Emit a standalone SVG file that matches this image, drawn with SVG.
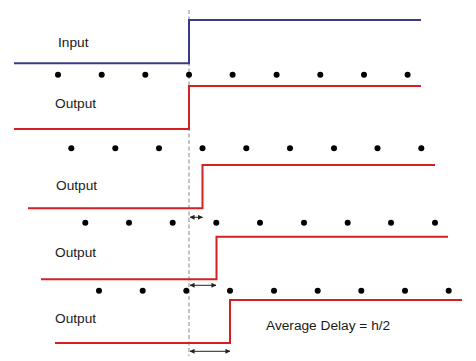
<svg xmlns="http://www.w3.org/2000/svg" width="476" height="361" viewBox="0 0 476 361">
<style>
.lbl{font-family:"Liberation Sans",Arial,sans-serif;font-size:13.7px;fill:#1a1a1a}
.sig{fill:none;stroke-width:2}
.in{stroke:#3a3a8a}
.out{stroke:#d42020}
.dot{fill:#000}
.dim{stroke:#222;stroke-width:1;fill:none}
</style>
<defs>
<marker id="ah" viewBox="0 0 6 6" refX="5.5" refY="3" markerWidth="5" markerHeight="5" orient="auto-start-reverse" markerUnits="userSpaceOnUse">
<path d="M0,0 L6,3 L0,6 z" fill="#222"/>
</marker>
</defs>
<rect width="476" height="361" fill="#fff"/>
<g id="connectors">
<line x1="189" y1="10" x2="189" y2="356" stroke="#9a9a9a" stroke-width="1.2" stroke-dasharray="4,2.5"/>
<line class="dim" x1="190" y1="217.3" x2="202.5" y2="217.3" marker-start="url(#ah)" marker-end="url(#ah)"/>
<line class="dim" x1="190" y1="285.3" x2="216" y2="285.3" marker-start="url(#ah)" marker-end="url(#ah)"/>
<line class="dim" x1="190" y1="351.3" x2="230" y2="351.3" marker-start="url(#ah)" marker-end="url(#ah)"/>
</g>
<g id="input">
<path class="sig in" d="M14,63.3 H189 V20 H421"/>
<text class="lbl" x="58" y="47">Input</text>
</g>
<g id="output1">
<path class="sig out" d="M14,129 H189 V86 H421"/>
<text class="lbl" x="55" y="107.5">Output</text>
</g>
<g id="output2">
<path class="sig out" d="M28,208.3 H202.5 V165 H435"/>
<text class="lbl" x="56" y="189.5">Output</text>
</g>
<g id="output3">
<path class="sig out" d="M41,279.3 H216.5 V236.7 H448"/>
<text class="lbl" x="55" y="257">Output</text>
</g>
<g id="output4">
<path class="sig out" d="M55,343 H230 V300 H462"/>
<text class="lbl" x="55" y="323">Output</text>
</g>
<g id="dots1" class="dot">
<circle cx="58" cy="74.7" r="3"/><circle cx="101.7" cy="74.7" r="3"/><circle cx="145.3" cy="74.7" r="3"/><circle cx="189" cy="74.7" r="3"/><circle cx="232.6" cy="74.7" r="3"/><circle cx="276.6" cy="74.7" r="3"/><circle cx="320.3" cy="74.7" r="3"/><circle cx="364" cy="74.7" r="3"/><circle cx="407.6" cy="74.7" r="3"/>
</g>
<g id="dots2" class="dot">
<circle cx="71.3" cy="148.3" r="3"/><circle cx="115.3" cy="148.3" r="3"/><circle cx="159" cy="148.3" r="3"/><circle cx="202.5" cy="148.3" r="3"/><circle cx="246.3" cy="148.3" r="3"/><circle cx="290" cy="148.3" r="3"/><circle cx="334" cy="148.3" r="3"/><circle cx="377.5" cy="148.3" r="3"/><circle cx="421.3" cy="148.3" r="3"/>
</g>
<g id="dots3" class="dot">
<circle cx="85.3" cy="222.7" r="3"/><circle cx="129" cy="222.7" r="3"/><circle cx="172.7" cy="222.7" r="3"/><circle cx="216.3" cy="222.7" r="3"/><circle cx="260" cy="222.7" r="3"/><circle cx="304" cy="222.7" r="3"/><circle cx="347.7" cy="222.7" r="3"/><circle cx="391" cy="222.7" r="3"/><circle cx="435" cy="222.7" r="3"/>
</g>
<g id="dots4" class="dot">
<circle cx="99" cy="290.7" r="3"/><circle cx="142.7" cy="290.7" r="3"/><circle cx="186.3" cy="290.7" r="3"/><circle cx="230" cy="290.7" r="3"/><circle cx="274" cy="290.7" r="3"/><circle cx="317.7" cy="290.7" r="3"/><circle cx="361.3" cy="290.7" r="3"/><circle cx="405" cy="290.7" r="3"/><circle cx="448.7" cy="290.7" r="3"/>
</g>
<g id="note">
<text class="lbl" x="266" y="329.5">Average Delay = h/2</text>
</g>
</svg>
